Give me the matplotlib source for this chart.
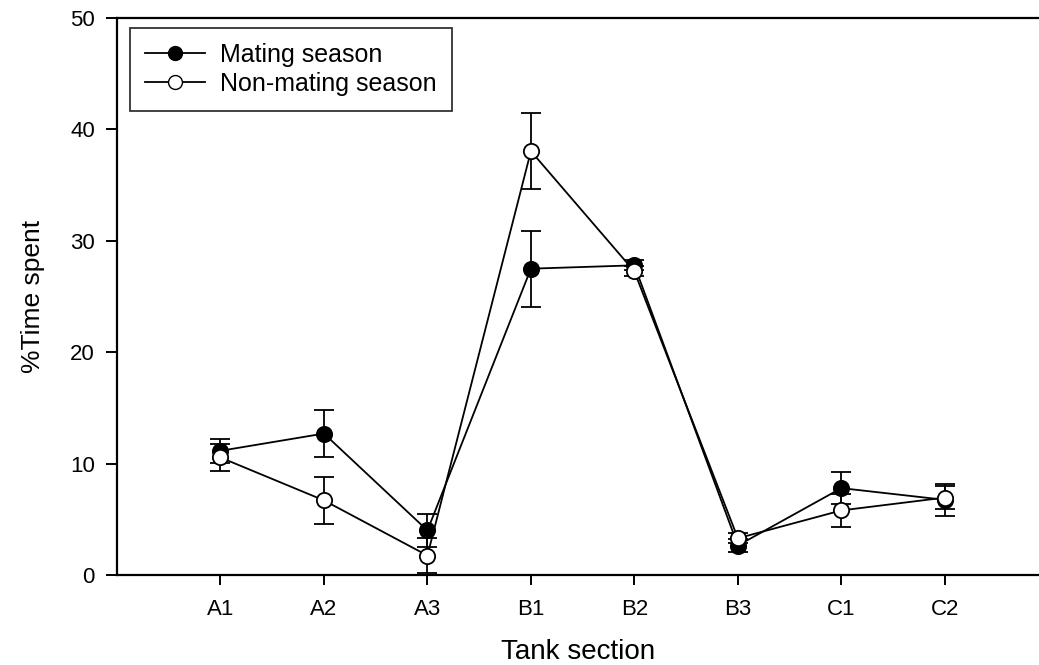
import matplotlib.pyplot as plt
from matplotlib.lines import Line2D
import numpy as np

plt.rcParams['font.family'] = ['Liberation Sans', 'DejaVu Sans']

sections = ['A1', 'A2', 'A3', 'B1', 'B2', 'B3', 'C1', 'C2']
mating = [11.15, 12.7, 4.0, 27.5, 27.8, 2.65, 7.8, 6.75]
mating_err = [1.05, 2.1, 1.5, 3.4, 0.45, 0.55, 1.45, 1.45]
nonmating = [10.55, 6.7, 1.75, 38.05, 27.25, 3.3, 5.8, 6.95]
nonmating_err = [1.2, 2.1, 1.6, 3.4, 0.45, 0.45, 1.45, 1.0]

fig = plt.figure(figsize=(10.39, 6.65), dpi=100)
ax = fig.add_axes([0.1126, 0.1353, 0.8874, 0.8376])

x = np.arange(1, len(sections) + 1)

style = dict(color='black', lw=1.3, marker='o', ms=11, mec='black', mew=1.3,
             capsize=7, capthick=1.3, elinewidth=1.3)
ax.errorbar(x, mating, yerr=mating_err, mfc='black', **style)
ax.errorbar(x, nonmating, yerr=nonmating_err, mfc='white', **style)

ax.set_xlim(0, 8.91)
ax.set_ylim(0, 50)
ax.set_xticks(x)
ax.set_xticklabels(sections)
ax.set_yticks([0, 10, 20, 30, 40, 50])

ax.spines['right'].set_visible(False)
for s in ['left', 'bottom', 'top']:
    ax.spines[s].set_linewidth(1.6)

ax.tick_params(axis='y', direction='out', length=8, width=1.4, labelsize=16, pad=8)
ax.tick_params(axis='x', direction='out', length=7, width=1.4, labelsize=16, pad=10)

ax.set_xlabel('Tank section', fontsize=20, labelpad=14)
ax.set_ylabel('%Time spent', fontsize=19, labelpad=18)

# legend handles without the error bars
handles = [
    Line2D([], [], color='black', lw=1.3, marker='o', ms=10, mfc='black', mec='black'),
    Line2D([], [], color='black', lw=1.3, marker='o', ms=10, mfc='white', mec='black'),
]
leg = ax.legend(handles, ['Mating season', 'Non-mating season'],
                loc='upper left', bbox_to_anchor=(0.014, 0.982), fontsize=18,
                frameon=True, fancybox=False, edgecolor='black',
                handlelength=2.4, handletextpad=0.6, borderpad=0.6,
                labelspacing=0.2, borderaxespad=0)
leg.get_frame().set_linewidth(1.3)

fig.savefig('out.png', dpi=100)
